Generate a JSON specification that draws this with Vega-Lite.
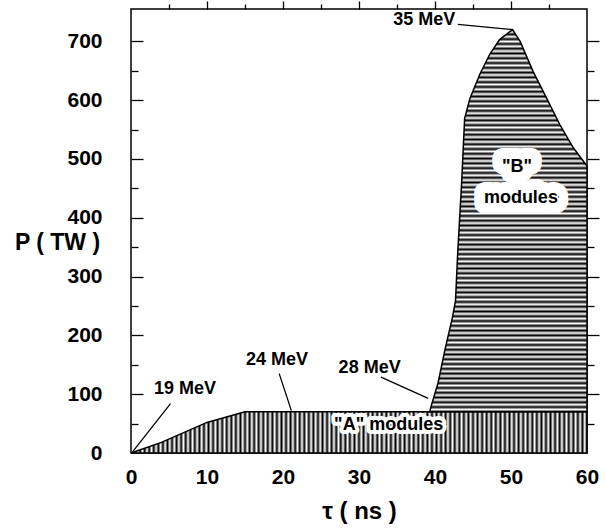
{
  "$schema": "https://vega.github.io/schema/vega-lite/v6.json",
  "autosize": {"type": "none"},
  "width": 456,
  "height": 444,
  "padding": {"left": 131, "top": 9, "right": 18, "bottom": 75},
  "background": "white",
  "config": {
    "view": {"stroke": "#000", "strokeWidth": 1.5},
    "axis": {"tickColor": "#000", "labelColor": "#000", "titleColor": "#000", "labelFont": "Liberation Sans", "titleFont": "Liberation Sans", "tickWidth": 1.3, "grid": false, "domain": false}
  },
  "datasets": {
    "moduleA": [
      {"t": 0, "p": 0}, {"t": 4, "p": 18}, {"t": 10, "p": 52}, {"t": 15, "p": 70}, {"t": 60, "p": 70}
    ],
    "moduleB": [
      {"t": 39.3, "p": 70}, {"t": 39.5, "p": 80}, {"t": 40.4, "p": 119}, {"t": 41.3, "p": 175}, {"t": 42.3, "p": 231},
      {"t": 42.7, "p": 259}, {"t": 43.0, "p": 344}, {"t": 43.5, "p": 458}, {"t": 43.7, "p": 514}, {"t": 43.9, "p": 569},
      {"t": 44.6, "p": 603}, {"t": 45.9, "p": 644}, {"t": 47.2, "p": 678}, {"t": 48.5, "p": 703}, {"t": 50.2, "p": 720},
      {"t": 51.2, "p": 700}, {"t": 52.9, "p": 649}, {"t": 54.7, "p": 603}, {"t": 56.4, "p": 559}, {"t": 58.2, "p": 519},
      {"t": 60, "p": 488}
    ],
    "energy": [
      {"label": "19 MeV", "t": 7.1, "p": 108},
      {"label": "24 MeV", "t": 19.2, "p": 158},
      {"label": "28 MeV", "t": 31.4, "p": 145},
      {"label": "35 MeV", "t": 38.6, "p": 736}
    ],
    "pointers": [
      {"t": 5.2, "p": 84, "t2": 0.2, "p2": 2},
      {"t": 19.5, "p": 135, "t2": 21.1, "p2": 72},
      {"t": 32.9, "p": 129, "t2": 39.1, "p2": 93},
      {"t": 43.0, "p": 729, "t2": 50.2, "p2": 720}
    ],
    "modA": [{"label": "\"A\" modules", "t": 33.9, "p": 47}],
    "modB": [{"label": "\"B\"", "t": 50.8, "p": 487}, {"label": "modules", "t": 51.3, "p": 434}]
  },
  "resolve": {"scale": {"x": "independent", "y": "independent"}, "axis": {"x": "independent", "y": "independent"}},
  "layer": [
    {
      "data": {"name": "moduleA"},
      "mark": {
        "type": "area", "stroke": "#000", "strokeWidth": 1.5, "interpolate": "linear",
        "fill": {"gradient": "linear", "x1": 0, "y1": 0, "x2": 1, "y2": 0, "stops": [
{"offset":0,"color":"#000"},{"offset":0.005,"color":"#fff"},{"offset":0.01,"color":"#000"},{"offset":0.015,"color":"#fff"},{"offset":0.02,"color":"#000"},{"offset":0.025,"color":"#fff"},{"offset":0.03,"color":"#000"},{"offset":0.035,"color":"#fff"},{"offset":0.04,"color":"#000"},{"offset":0.045,"color":"#fff"},
{"offset":0.05,"color":"#000"},{"offset":0.055,"color":"#fff"},{"offset":0.06,"color":"#000"},{"offset":0.065,"color":"#fff"},{"offset":0.07,"color":"#000"},{"offset":0.075,"color":"#fff"},{"offset":0.08,"color":"#000"},{"offset":0.085,"color":"#fff"},{"offset":0.09,"color":"#000"},{"offset":0.095,"color":"#fff"},
{"offset":0.1,"color":"#000"},{"offset":0.105,"color":"#fff"},{"offset":0.11,"color":"#000"},{"offset":0.115,"color":"#fff"},{"offset":0.12,"color":"#000"},{"offset":0.125,"color":"#fff"},{"offset":0.13,"color":"#000"},{"offset":0.135,"color":"#fff"},{"offset":0.14,"color":"#000"},{"offset":0.145,"color":"#fff"},
{"offset":0.15,"color":"#000"},{"offset":0.155,"color":"#fff"},{"offset":0.16,"color":"#000"},{"offset":0.165,"color":"#fff"},{"offset":0.17,"color":"#000"},{"offset":0.175,"color":"#fff"},{"offset":0.18,"color":"#000"},{"offset":0.185,"color":"#fff"},{"offset":0.19,"color":"#000"},{"offset":0.195,"color":"#fff"},
{"offset":0.2,"color":"#000"},{"offset":0.205,"color":"#fff"},{"offset":0.21,"color":"#000"},{"offset":0.215,"color":"#fff"},{"offset":0.22,"color":"#000"},{"offset":0.225,"color":"#fff"},{"offset":0.23,"color":"#000"},{"offset":0.235,"color":"#fff"},{"offset":0.24,"color":"#000"},{"offset":0.245,"color":"#fff"},
{"offset":0.25,"color":"#000"},{"offset":0.255,"color":"#fff"},{"offset":0.26,"color":"#000"},{"offset":0.265,"color":"#fff"},{"offset":0.27,"color":"#000"},{"offset":0.275,"color":"#fff"},{"offset":0.28,"color":"#000"},{"offset":0.285,"color":"#fff"},{"offset":0.29,"color":"#000"},{"offset":0.295,"color":"#fff"},
{"offset":0.3,"color":"#000"},{"offset":0.305,"color":"#fff"},{"offset":0.31,"color":"#000"},{"offset":0.315,"color":"#fff"},{"offset":0.32,"color":"#000"},{"offset":0.325,"color":"#fff"},{"offset":0.33,"color":"#000"},{"offset":0.335,"color":"#fff"},{"offset":0.34,"color":"#000"},{"offset":0.345,"color":"#fff"},
{"offset":0.35,"color":"#000"},{"offset":0.355,"color":"#fff"},{"offset":0.36,"color":"#000"},{"offset":0.365,"color":"#fff"},{"offset":0.37,"color":"#000"},{"offset":0.375,"color":"#fff"},{"offset":0.38,"color":"#000"},{"offset":0.385,"color":"#fff"},{"offset":0.39,"color":"#000"},{"offset":0.395,"color":"#fff"},
{"offset":0.4,"color":"#000"},{"offset":0.405,"color":"#fff"},{"offset":0.41,"color":"#000"},{"offset":0.415,"color":"#fff"},{"offset":0.42,"color":"#000"},{"offset":0.425,"color":"#fff"},{"offset":0.43,"color":"#000"},{"offset":0.435,"color":"#fff"},{"offset":0.44,"color":"#000"},{"offset":0.445,"color":"#fff"},
{"offset":0.45,"color":"#000"},{"offset":0.455,"color":"#fff"},{"offset":0.46,"color":"#000"},{"offset":0.465,"color":"#fff"},{"offset":0.47,"color":"#000"},{"offset":0.475,"color":"#fff"},{"offset":0.48,"color":"#000"},{"offset":0.485,"color":"#fff"},{"offset":0.49,"color":"#000"},{"offset":0.495,"color":"#fff"},
{"offset":0.5,"color":"#000"},{"offset":0.505,"color":"#fff"},{"offset":0.51,"color":"#000"},{"offset":0.515,"color":"#fff"},{"offset":0.52,"color":"#000"},{"offset":0.525,"color":"#fff"},{"offset":0.53,"color":"#000"},{"offset":0.535,"color":"#fff"},{"offset":0.54,"color":"#000"},{"offset":0.545,"color":"#fff"},
{"offset":0.55,"color":"#000"},{"offset":0.555,"color":"#fff"},{"offset":0.56,"color":"#000"},{"offset":0.565,"color":"#fff"},{"offset":0.57,"color":"#000"},{"offset":0.575,"color":"#fff"},{"offset":0.58,"color":"#000"},{"offset":0.585,"color":"#fff"},{"offset":0.59,"color":"#000"},{"offset":0.595,"color":"#fff"},
{"offset":0.6,"color":"#000"},{"offset":0.605,"color":"#fff"},{"offset":0.61,"color":"#000"},{"offset":0.615,"color":"#fff"},{"offset":0.62,"color":"#000"},{"offset":0.625,"color":"#fff"},{"offset":0.63,"color":"#000"},{"offset":0.635,"color":"#fff"},{"offset":0.64,"color":"#000"},{"offset":0.645,"color":"#fff"},
{"offset":0.65,"color":"#000"},{"offset":0.655,"color":"#fff"},{"offset":0.66,"color":"#000"},{"offset":0.665,"color":"#fff"},{"offset":0.67,"color":"#000"},{"offset":0.675,"color":"#fff"},{"offset":0.68,"color":"#000"},{"offset":0.685,"color":"#fff"},{"offset":0.69,"color":"#000"},{"offset":0.695,"color":"#fff"},
{"offset":0.7,"color":"#000"},{"offset":0.705,"color":"#fff"},{"offset":0.71,"color":"#000"},{"offset":0.715,"color":"#fff"},{"offset":0.72,"color":"#000"},{"offset":0.725,"color":"#fff"},{"offset":0.73,"color":"#000"},{"offset":0.735,"color":"#fff"},{"offset":0.74,"color":"#000"},{"offset":0.745,"color":"#fff"},
{"offset":0.75,"color":"#000"},{"offset":0.755,"color":"#fff"},{"offset":0.76,"color":"#000"},{"offset":0.765,"color":"#fff"},{"offset":0.77,"color":"#000"},{"offset":0.775,"color":"#fff"},{"offset":0.78,"color":"#000"},{"offset":0.785,"color":"#fff"},{"offset":0.79,"color":"#000"},{"offset":0.795,"color":"#fff"},
{"offset":0.8,"color":"#000"},{"offset":0.805,"color":"#fff"},{"offset":0.81,"color":"#000"},{"offset":0.815,"color":"#fff"},{"offset":0.82,"color":"#000"},{"offset":0.825,"color":"#fff"},{"offset":0.83,"color":"#000"},{"offset":0.835,"color":"#fff"},{"offset":0.84,"color":"#000"},{"offset":0.845,"color":"#fff"},
{"offset":0.85,"color":"#000"},{"offset":0.855,"color":"#fff"},{"offset":0.86,"color":"#000"},{"offset":0.865,"color":"#fff"},{"offset":0.87,"color":"#000"},{"offset":0.875,"color":"#fff"},{"offset":0.88,"color":"#000"},{"offset":0.885,"color":"#fff"},{"offset":0.89,"color":"#000"},{"offset":0.895,"color":"#fff"},
{"offset":0.9,"color":"#000"},{"offset":0.905,"color":"#fff"},{"offset":0.91,"color":"#000"},{"offset":0.915,"color":"#fff"},{"offset":0.92,"color":"#000"},{"offset":0.925,"color":"#fff"},{"offset":0.93,"color":"#000"},{"offset":0.935,"color":"#fff"},{"offset":0.94,"color":"#000"},{"offset":0.945,"color":"#fff"},
{"offset":0.95,"color":"#000"},{"offset":0.955,"color":"#fff"},{"offset":0.96,"color":"#000"},{"offset":0.965,"color":"#fff"},{"offset":0.97,"color":"#000"},{"offset":0.975,"color":"#fff"},{"offset":0.98,"color":"#000"},{"offset":0.985,"color":"#fff"},{"offset":0.99,"color":"#000"},{"offset":0.995,"color":"#fff"},
{"offset":1,"color":"#000"}
        ]}
      },
      "encoding": {
        "x": {"field": "t", "type": "quantitative", "scale": {"domain": [0, 60], "nice": false, "zero": false},
          "axis": {"orient": "bottom", "values": [0, 10, 20, 30, 40, 50, 60], "ticks": false, "labelFlush": false,
            "labelFontSize": 21, "labelFontWeight": "bold", "labelPadding": 13,
            "title": "τ ( ns )", "titleFontSize": 24, "titleFontWeight": "bold", "titlePadding": 12}},
        "y": {"field": "p", "type": "quantitative", "scale": {"domain": [0, 755], "nice": false},
          "axis": {"orient": "left", "values": [0, 100, 200, 300, 400, 500, 600, 700], "ticks": true, "tickSize": 27, "tickOpacity": 0,
            "labelFontSize": 21, "labelFontWeight": "bold", "labelPadding": 2,
            "title": "P ( TW )", "titleAngle": 0, "titleX": -74, "titleY": 233, "titleAlign": "center", "titleBaseline": "middle",
            "titleFontSize": 23, "titleFontWeight": "bold"}}
      }
    },
    {
      "data": {"name": "moduleB"},
      "mark": {
        "type": "area", "stroke": "#000", "strokeWidth": 1.5, "interpolate": "linear",
        "fill": {"gradient": "linear", "x1": 0, "y1": 0, "x2": 0, "y2": 1, "stops": [
{"offset":0,"color":"#000"},{"offset":0.00625,"color":"#fff"},{"offset":0.0125,"color":"#000"},{"offset":0.01875,"color":"#fff"},{"offset":0.025,"color":"#000"},{"offset":0.03125,"color":"#fff"},{"offset":0.0375,"color":"#000"},{"offset":0.04375,"color":"#fff"},{"offset":0.05,"color":"#000"},{"offset":0.05625,"color":"#fff"},{"offset":0.0625,"color":"#000"},{"offset":0.06875,"color":"#fff"},{"offset":0.075,"color":"#000"},{"offset":0.08125,"color":"#fff"},{"offset":0.0875,"color":"#000"},{"offset":0.09375,"color":"#fff"},
{"offset":0.1,"color":"#000"},{"offset":0.10625,"color":"#fff"},{"offset":0.1125,"color":"#000"},{"offset":0.11875,"color":"#fff"},{"offset":0.125,"color":"#000"},{"offset":0.13125,"color":"#fff"},{"offset":0.1375,"color":"#000"},{"offset":0.14375,"color":"#fff"},{"offset":0.15,"color":"#000"},{"offset":0.15625,"color":"#fff"},{"offset":0.1625,"color":"#000"},{"offset":0.16875,"color":"#fff"},{"offset":0.175,"color":"#000"},{"offset":0.18125,"color":"#fff"},{"offset":0.1875,"color":"#000"},{"offset":0.19375,"color":"#fff"},
{"offset":0.2,"color":"#000"},{"offset":0.20625,"color":"#fff"},{"offset":0.2125,"color":"#000"},{"offset":0.21875,"color":"#fff"},{"offset":0.225,"color":"#000"},{"offset":0.23125,"color":"#fff"},{"offset":0.2375,"color":"#000"},{"offset":0.24375,"color":"#fff"},{"offset":0.25,"color":"#000"},{"offset":0.25625,"color":"#fff"},{"offset":0.2625,"color":"#000"},{"offset":0.26875,"color":"#fff"},{"offset":0.275,"color":"#000"},{"offset":0.28125,"color":"#fff"},{"offset":0.2875,"color":"#000"},{"offset":0.29375,"color":"#fff"},
{"offset":0.3,"color":"#000"},{"offset":0.30625,"color":"#fff"},{"offset":0.3125,"color":"#000"},{"offset":0.31875,"color":"#fff"},{"offset":0.325,"color":"#000"},{"offset":0.33125,"color":"#fff"},{"offset":0.3375,"color":"#000"},{"offset":0.34375,"color":"#fff"},{"offset":0.35,"color":"#000"},{"offset":0.35625,"color":"#fff"},{"offset":0.3625,"color":"#000"},{"offset":0.36875,"color":"#fff"},{"offset":0.375,"color":"#000"},{"offset":0.38125,"color":"#fff"},{"offset":0.3875,"color":"#000"},{"offset":0.39375,"color":"#fff"},
{"offset":0.4,"color":"#000"},{"offset":0.40625,"color":"#fff"},{"offset":0.4125,"color":"#000"},{"offset":0.41875,"color":"#fff"},{"offset":0.425,"color":"#000"},{"offset":0.43125,"color":"#fff"},{"offset":0.4375,"color":"#000"},{"offset":0.44375,"color":"#fff"},{"offset":0.45,"color":"#000"},{"offset":0.45625,"color":"#fff"},{"offset":0.4625,"color":"#000"},{"offset":0.46875,"color":"#fff"},{"offset":0.475,"color":"#000"},{"offset":0.48125,"color":"#fff"},{"offset":0.4875,"color":"#000"},{"offset":0.49375,"color":"#fff"},
{"offset":0.5,"color":"#000"},{"offset":0.50625,"color":"#fff"},{"offset":0.5125,"color":"#000"},{"offset":0.51875,"color":"#fff"},{"offset":0.525,"color":"#000"},{"offset":0.53125,"color":"#fff"},{"offset":0.5375,"color":"#000"},{"offset":0.54375,"color":"#fff"},{"offset":0.55,"color":"#000"},{"offset":0.55625,"color":"#fff"},{"offset":0.5625,"color":"#000"},{"offset":0.56875,"color":"#fff"},{"offset":0.575,"color":"#000"},{"offset":0.58125,"color":"#fff"},{"offset":0.5875,"color":"#000"},{"offset":0.59375,"color":"#fff"},
{"offset":0.6,"color":"#000"},{"offset":0.60625,"color":"#fff"},{"offset":0.6125,"color":"#000"},{"offset":0.61875,"color":"#fff"},{"offset":0.625,"color":"#000"},{"offset":0.63125,"color":"#fff"},{"offset":0.6375,"color":"#000"},{"offset":0.64375,"color":"#fff"},{"offset":0.65,"color":"#000"},{"offset":0.65625,"color":"#fff"},{"offset":0.6625,"color":"#000"},{"offset":0.66875,"color":"#fff"},{"offset":0.675,"color":"#000"},{"offset":0.68125,"color":"#fff"},{"offset":0.6875,"color":"#000"},{"offset":0.69375,"color":"#fff"},
{"offset":0.7,"color":"#000"},{"offset":0.70625,"color":"#fff"},{"offset":0.7125,"color":"#000"},{"offset":0.71875,"color":"#fff"},{"offset":0.725,"color":"#000"},{"offset":0.73125,"color":"#fff"},{"offset":0.7375,"color":"#000"},{"offset":0.74375,"color":"#fff"},{"offset":0.75,"color":"#000"},{"offset":0.75625,"color":"#fff"},{"offset":0.7625,"color":"#000"},{"offset":0.76875,"color":"#fff"},{"offset":0.775,"color":"#000"},{"offset":0.78125,"color":"#fff"},{"offset":0.7875,"color":"#000"},{"offset":0.79375,"color":"#fff"},
{"offset":0.8,"color":"#000"},{"offset":0.80625,"color":"#fff"},{"offset":0.8125,"color":"#000"},{"offset":0.81875,"color":"#fff"},{"offset":0.825,"color":"#000"},{"offset":0.83125,"color":"#fff"},{"offset":0.8375,"color":"#000"},{"offset":0.84375,"color":"#fff"},{"offset":0.85,"color":"#000"},{"offset":0.85625,"color":"#fff"},{"offset":0.8625,"color":"#000"},{"offset":0.86875,"color":"#fff"},{"offset":0.875,"color":"#000"},{"offset":0.88125,"color":"#fff"},{"offset":0.8875,"color":"#000"},{"offset":0.89375,"color":"#fff"},
{"offset":0.9,"color":"#000"},{"offset":0.90625,"color":"#fff"},{"offset":0.9125,"color":"#000"},{"offset":0.91875,"color":"#fff"},{"offset":0.925,"color":"#000"},{"offset":0.93125,"color":"#fff"},{"offset":0.9375,"color":"#000"},{"offset":0.94375,"color":"#fff"},{"offset":0.95,"color":"#000"},{"offset":0.95625,"color":"#fff"},{"offset":0.9625,"color":"#000"},{"offset":0.96875,"color":"#fff"},{"offset":0.975,"color":"#000"},{"offset":0.98125,"color":"#fff"},{"offset":0.9875,"color":"#000"},{"offset":0.99375,"color":"#fff"},
{"offset":1,"color":"#000"}
        ]}
      },
      "encoding": {
        "x": {"field": "t", "type": "quantitative", "scale": {"domain": [0, 60], "nice": false, "zero": false},
          "axis": {"orient": "top", "values": [10, 20, 30, 40, 50], "labels": false, "title": null, "tickSize": 8, "tickColor": "#000", "tickWidth": 1.3}},
        "y": {"field": "p", "type": "quantitative", "scale": {"domain": [0, 755], "nice": false},
          "axis": {"orient": "right", "values": [100, 200, 300, 400, 500, 600, 700], "labels": false, "title": null, "tickSize": 12, "tickColor": "#000", "tickWidth": 1.3}},
        "y2": {"datum": 70}
      }
    },
    {
      "data": {"name": "pointers"},
      "mark": {"type": "rule", "stroke": "#000", "strokeWidth": 1.3},
      "encoding": {
        "x": {"field": "t", "type": "quantitative", "scale": {"domain": [0, 60], "nice": false, "zero": false},
          "axis": {"orient": "top", "values": [5, 15, 25, 35, 45, 55], "labels": false, "title": null, "tickSize": 5, "tickColor": "#000", "tickWidth": 1.3}},
        "y": {"field": "p", "type": "quantitative", "scale": {"domain": [0, 755], "nice": false},
          "axis": {"orient": "right", "values": [50, 150, 250, 350, 450, 550, 650], "labels": false, "title": null, "tickSize": 7, "tickColor": "#000", "tickWidth": 1.3}},
        "x2": {"field": "t2"},
        "y2": {"field": "p2"}
      }
    },
    {
      "data": {"name": "modA"},
      "mark": {"type": "text", "font": "Liberation Sans", "fontWeight": "bold", "fontSize": 18, "align": "center", "baseline": "middle", "fill": "#fff", "stroke": "#fff", "strokeWidth": 8, "strokeJoin": "round"},
      "encoding": {
        "x": {"field": "t", "type": "quantitative", "scale": {"domain": [0, 60], "nice": false, "zero": false}, "axis": null},
        "y": {"field": "p", "type": "quantitative", "scale": {"domain": [0, 755], "nice": false},
          "axis": {"orient": "left", "values": [50, 150, 250, 350, 450, 550, 650], "labels": false, "title": null, "tickSize": -7, "tickColor": "#000", "tickWidth": 1.3}},
        "text": {"field": "label"}
      }
    },
    {
      "data": {"name": "modB"},
      "mark": {"type": "text", "font": "Liberation Sans", "fontWeight": "bold", "fontSize": 18, "align": "center", "baseline": "middle", "fill": "#fff", "stroke": "#fff", "strokeWidth": 22, "strokeJoin": "round"},
      "encoding": {
        "x": {"field": "t", "type": "quantitative", "scale": {"domain": [0, 60], "nice": false, "zero": false}, "axis": null},
        "y": {"field": "p", "type": "quantitative", "scale": {"domain": [0, 755], "nice": false},
          "axis": {"orient": "left", "values": [100, 200, 300, 400, 500, 600, 700], "labels": false, "title": null, "tickSize": -12, "tickColor": "#000", "tickWidth": 1.3}},
        "text": {"field": "label"}
      }
    },
    {
      "data": {"name": "modA"},
      "mark": {"type": "text", "font": "Liberation Sans", "fontWeight": "bold", "fontSize": 18, "align": "center", "baseline": "middle", "fill": "#000"},
      "encoding": {
        "x": {"field": "t", "type": "quantitative", "scale": {"domain": [0, 60], "nice": false, "zero": false}, "axis": null},
        "y": {"field": "p", "type": "quantitative", "scale": {"domain": [0, 755], "nice": false}, "axis": null},
        "text": {"field": "label"}
      }
    },
    {
      "data": {"name": "modB"},
      "mark": {"type": "text", "font": "Liberation Sans", "fontWeight": "bold", "fontSize": 18, "align": "center", "baseline": "middle", "fill": "#000"},
      "encoding": {
        "x": {"field": "t", "type": "quantitative", "scale": {"domain": [0, 60], "nice": false, "zero": false}, "axis": null},
        "y": {"field": "p", "type": "quantitative", "scale": {"domain": [0, 755], "nice": false}, "axis": null},
        "text": {"field": "label"}
      }
    },
    {
      "data": {"name": "energy"},
      "mark": {"type": "text", "font": "Liberation Sans", "fontWeight": "bold", "fontSize": 18, "align": "center", "baseline": "middle", "fill": "#000"},
      "encoding": {
        "x": {"field": "t", "type": "quantitative", "scale": {"domain": [0, 60], "nice": false, "zero": false}, "axis": null},
        "y": {"field": "p", "type": "quantitative", "scale": {"domain": [0, 755], "nice": false}, "axis": null},
        "text": {"field": "label"}
      }
    }
  ]
}
